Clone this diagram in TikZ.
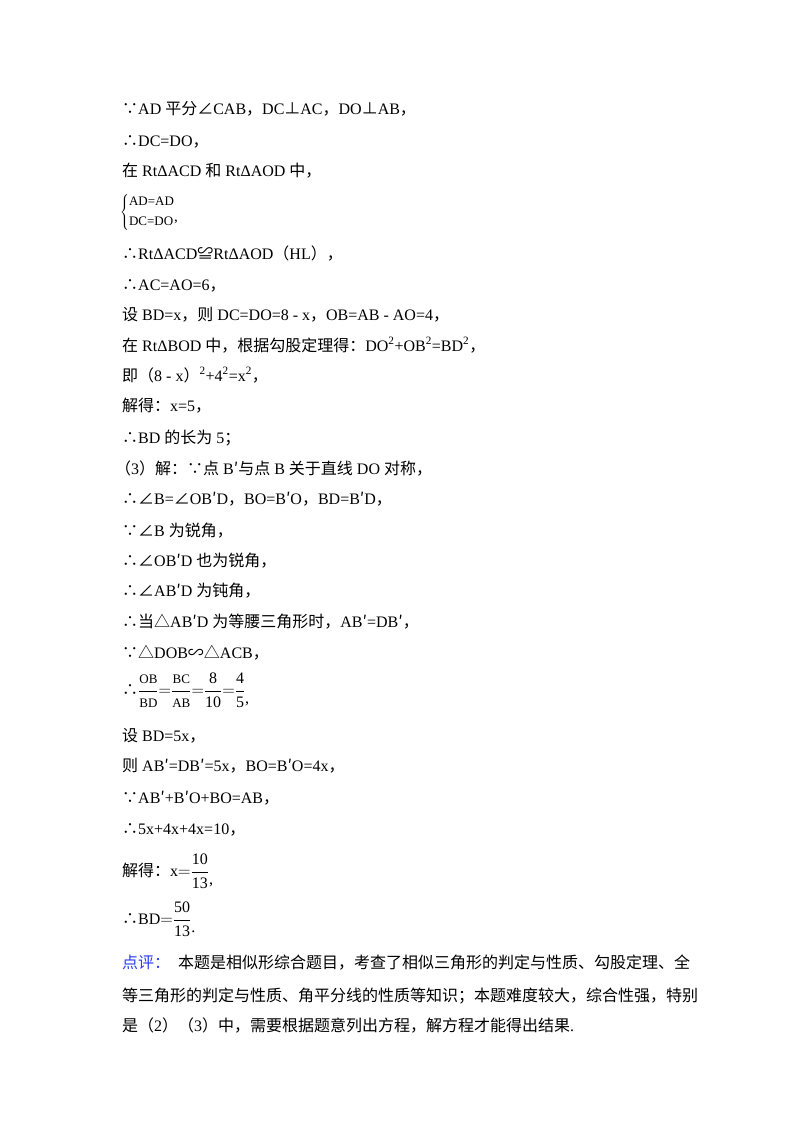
\documentclass[tikz,border=0pt]{standalone}
\usepackage{fontspec}
\setmainfont{Liberation Serif}
\newfontfamily\zhf{Noto Sans CJK SC}
\newcommand{\zh}[1]{{\zhf #1}}
\newcommand{\sm}[1]{\mbox{\fontsize{13}{15}\selectfont #1}}
\newcommand{\md}[1]{\mbox{\fontsize{16}{18}\selectfont #1}}
\definecolor{cmtblue}{RGB}{40,60,240}
\tikzset{txt/.style={anchor=base west,inner sep=0pt,font=\fontsize{16}{19}\selectfont}}
\begin{document}
\begin{tikzpicture}[x=1pt,y=-1pt]
\useasboundingbox (0,0) rectangle (800,1132);
\node[txt] (l1) at (122,114) {\zh{∵}AD \zh{平分∠}CAB\zh{，}DC\zh{⊥}AC\zh{，}DO\zh{⊥}AB\zh{，}};
\node[txt] (l2) at (122,146) {\zh{∴}DC=DO\zh{，}};
\node[txt] (l3) at (122,176) {\zh{在} RtΔACD \zh{和} RtΔAOD \zh{中，}};
\node[anchor=west,inner sep=0pt,font=\fontsize{15}{17}\selectfont] (l4) at (120,212) {$\left\{\begin{array}{@{}l@{}}\sm{AD=AD}\\[3pt]\sm{DC=DO}\end{array}\right.$\hspace{-1pt}\raisebox{-6pt}{,}};
\node[txt] (l5) at (122,259) {\zh{∴}RtΔACD\zh{≌}RtΔAOD\zh{（}HL\zh{），}};
\node[txt] (l6) at (122,290) {\zh{∴}AC=AO=6\zh{，}};
\node[txt] (l7) at (122,320) {\zh{设} BD=x\zh{，则} DC=DO=8 - x\zh{，}OB=AB - AO=4\zh{，}};
\node[txt] (l8) at (122,351) {\zh{在} RtΔBOD \zh{中，根据勾股定理得：}DO\textsuperscript{2}+OB\textsuperscript{2}=BD\textsuperscript{2}\zh{，}};
\node[txt] (l9) at (122,381) {\zh{即（}8 - x\zh{）}\textsuperscript{2}+4\textsuperscript{2}=x\textsuperscript{2}\zh{，}};
\node[txt] (l10) at (122,411) {\zh{解得：}x=5\zh{，}};
\node[txt] (l11) at (122,443) {\zh{∴}BD \zh{的长为} 5\zh{；}};
\node[txt] (l12) at (115,474) {\zh{（}3\zh{）解：∵点} B\zh{′与点} B \zh{关于直线} DO \zh{对称，}};
\node[txt] (l13) at (122,504) {\zh{∴∠}B=\zh{∠}OB\zh{′}D\zh{，}BO=B\zh{′}O\zh{，}BD=B\zh{′}D\zh{，}};
\node[txt] (l14) at (122,536) {\zh{∵∠}B \zh{为锐角，}};
\node[txt] (l15) at (122,566) {\zh{∴∠}OB\zh{′}D \zh{也为锐角，}};
\node[txt] (l16) at (122,596) {\zh{∴∠}AB\zh{′}D \zh{为钝角，}};
\node[txt] (l17) at (122,627) {\zh{∴当△}AB\zh{′}D \zh{为等腰三角形时，}AB\zh{′}=DB\zh{′，}};
\node[txt] (l18) at (122,658) {\zh{∵△}DOB\zh{∽△}ACB\zh{，}};
\node[anchor=west,inner sep=0pt,font=\fontsize{16}{18}\selectfont] (l19) at (122,690) {\zh{∴}$\displaystyle\frac{\sm{OB}}{\sm{BD}}{=}\frac{\sm{BC}}{\sm{AB}}{=}\frac{\md{8}}{\md{10}}{=}\frac{\md{4}}{\md{5}}$\raisebox{-8pt}{,}};
\node[txt] (l20) at (122,741) {\zh{设} BD=5x\zh{，}};
\node[txt] (l21) at (122,771) {\zh{则} AB\zh{′}=DB\zh{′}=5x\zh{，}BO=B\zh{′}O=4x\zh{，}};
\node[txt] (l22) at (122,803) {\zh{∵}AB\zh{′}+B\zh{′}O+BO=AB\zh{，}};
\node[txt] (l23) at (122,834) {\zh{∴}5x+4x+4x=10\zh{，}};
\node[anchor=west,inner sep=0pt,font=\fontsize{16}{19}\selectfont] (l24) at (122,871) {\zh{解得：}x${=}\displaystyle\frac{\md{10}}{\md{13}}$\raisebox{-8pt}{,}};
\node[anchor=west,inner sep=0pt,font=\fontsize{16}{19}\selectfont] (l25) at (122,919) {\zh{∴}BD${=}\displaystyle\frac{\md{50}}{\md{13}}$\raisebox{-8pt}{.}};
\node[txt] (l26) at (122,968) {\zh{\textcolor{cmtblue}{点评：}\hspace{8pt}本题是相似形综合题目，考查了相似三角形的判定与性质、勾股定理、全}};
\node[txt] (l27) at (122,1001) {\zh{等三角形的判定与性质、角平分线的性质等知识；本题难度较大，综合性强，特别}};
\node[txt] (l28) at (122,1031) {\zh{是（}2\zh{）（}3\zh{）中，需要根据题意列出方程，解方程才能得出结果}.};
\end{tikzpicture}
\end{document}
